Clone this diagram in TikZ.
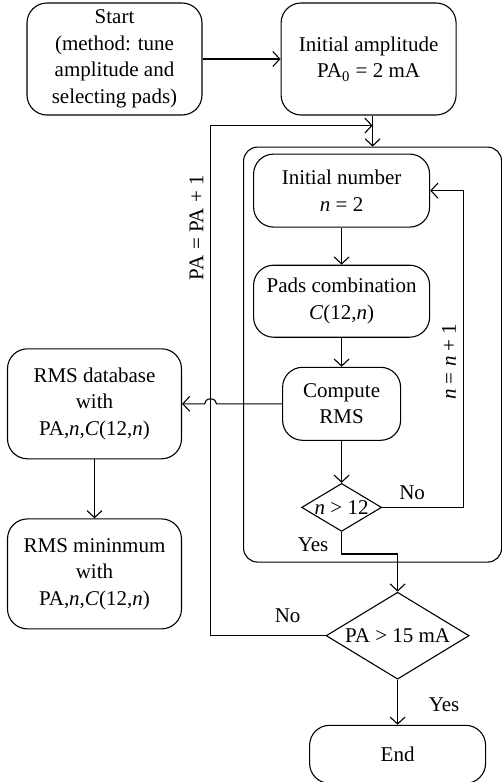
\documentclass[tikz,border=0pt]{standalone}
\usepackage{fontspec}
\setmainfont{Liberation Serif}
\usetikzlibrary{arrows.meta,positioning,calc,shapes.geometric}

\begin{document}
\begin{tikzpicture}[
    box/.style={draw, rounded corners=10pt, align=center, inner sep=2pt, font=\fontsize{10.5}{13.3}\selectfont},
    dec/.style={draw, diamond, inner sep=0pt, aspect=1.65, font=\fontsize{10.5}{13.3}\selectfont},
    arr/.style={-{Straight Barb[length=3.5pt,width=7.5pt]}},
    lbl/.style={font=\fontsize{10.5}{13.3}\selectfont},
    line width=0.55pt
  ]
  \useasboundingbox (0,0) rectangle (251pt,-391pt);

  % Top row
  \node[box, minimum width=87.5pt, minimum height=56pt] (start) at (57.25pt,-29.5pt) {Start\\(method: tune\\amplitude and\\selecting pads)};
  \node[box, minimum width=87.5pt, minimum height=56pt, right=39pt of start] (init) {Initial amplitude\\PA\textsubscript{0} = 2 mA};
  \draw[arr] (start) -- (init);

  % Inner loop (over n)
  \node[box, rounded corners=7pt, minimum width=129pt, minimum height=207.5pt, below=15.5pt of init, xshift=2pt] (cont) {};
  \node[box, minimum width=88pt, minimum height=36.5pt, below=3.5pt of cont.north, xshift=-15.5pt] (inum) {Initial number\\\textit{n} = 2};
  \node[box, minimum width=88pt, minimum height=36pt, below=18.5pt of inum] (pads) {Pads combination\\\textit{C}(12,\textit{n})};
  \node[box, minimum width=59pt, minimum height=36.5pt, below=14.5pt of pads] (comp) {Compute\\RMS};
  \node[dec, minimum width=40pt, minimum height=24pt, below=21pt of comp] (nchk) {\textit{n} > 12};

  % Outer check and end
  \node[dec, minimum width=71.5pt, minimum height=43.5pt, below=14.5pt of cont, xshift=12.5pt] (pachk) {PA > 15 mA};
  \node[box, minimum width=88pt, minimum height=29pt, below=22.5pt of pachk] (endn) {End};

  % Results column
  \node[box, minimum width=87pt, minimum height=55pt, left=50pt of comp] (db) {RMS database\\with\\PA,\textit{n},\textit{C}(12,\textit{n})};
  \node[box, minimum width=87pt, minimum height=55pt, below=29.5pt of db] (rmin) {RMS mininmum\\with\\PA,\textit{n},\textit{C}(12,\textit{n})};

  % Connectors
  \coordinate (mrg) at ($(cont.north |- init.south)+(0,-5pt)$);
  \coordinate (lpx) at ($(pachk.west)+(-57.5pt,0)$);
  \draw[arr] (cont.north |- init.south) -- (cont.north);
  \draw[arr] (inum) -- (pads);
  \draw[arr] (pads) -- (comp);
  \draw[arr] (comp) -- (nchk);
  \draw[arr] (nchk.east) -- node[lbl, above, pos=0.37] {No} ++(40.5pt,0) |- node[lbl, above, rotate=90, pos=0.23] {\textit{n} = \textit{n} + 1} (inum.east);
  \draw[arr] (nchk.south) -- node[lbl, left, pos=0.6, xshift=-3pt] {Yes} ++(0,-11pt) -| (pachk.north);
  \draw[arr] (pachk) -- node[lbl, right=12pt, pos=0.55] {Yes} (endn);
  \draw[arr] (pachk.west) -- node[lbl, above=3pt, pos=0.33] {No} (lpx) |- node[lbl, above, rotate=90, pos=0.4] {PA = PA + 1} (mrg);
  \draw[arr] (comp.west) -- ($(comp.west -| lpx)+(3pt,0)$) arc[start angle=0, end angle=180, x radius=3pt, y radius=2.5pt] -- (db.east);
  \draw[arr] (db) -- (rmin);
\end{tikzpicture}
\end{document}
